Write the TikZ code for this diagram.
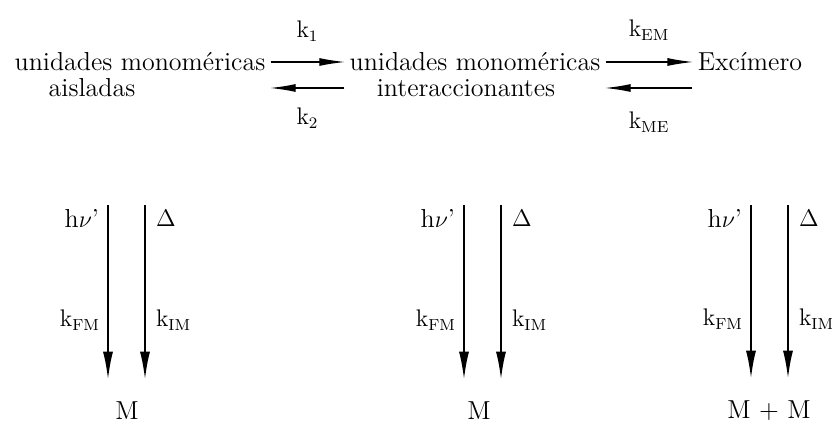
\documentclass[tikz,border=0pt]{standalone}
\usepackage{fontspec}
\usepackage{tikz}
\usetikzlibrary{arrows.meta,positioning,calc}

\begin{document}
\begin{tikzpicture}[
  x=0.5pt, y=-0.5pt,
  every node/.style={font=\fontsize{13}{15}\selectfont, inner sep=1pt},
  rate/.style    ={font=\fontsize{12}{14}\selectfont},
  react/.style   ={line width=0.7pt, -{Latex[length=13pt,width=4pt]},
                   shorten <=1.5pt, shorten >=1pt},
  decay/.style   ={line width=1pt, -{Latex[length=14pt,width=5pt]},
                   shorten >=10pt}]

\useasboundingbox (0,0) rectangle (832,422);

% one pair of decay arrows: x of the left arrow, name of the product node
\newcommand{\decaypair}[2]{%
  \coordinate (#2rad) at (#1,205);
  \coordinate (#2heat) at (#1+37,205);
  \draw[decay] (#2rad) -- (#2rad |- #2.north)
    node[pos=0.07, left=3pt] {h$\nu$'}
    node[pos=0.59, left=2.5pt, rate] {k$_{\mathrm{FM}}$};
  \draw[decay] (#2heat) -- (#2heat |- #2.north)
    node[pos=0.07, right=4pt] {$\Delta$}
    node[pos=0.59, right=4pt, rate] {k$_{\mathrm{IM}}$};}

% ======================  reaction scheme  ============================
\node (aisl)  at (140,62) {unidades monoméricas};
\node (aisl2) at (92,88)  {aisladas};
\node (inter) at (475,62) {unidades monoméricas};
\node (inter2) at (466,88) {interaccionantes};
\node (exc)   at (750,62) {Excímero};

\draw[react] (aisl.east) -- (inter.west)
  node[midway, yshift=15.5pt, rate] {k$_1$};
\draw[react] (inter.west |- aisl2) -- (aisl.east |- aisl2)
  node[midway, yshift=-15pt, rate] {k$_2$};

\draw[react] (inter.east) -- (exc.west)
  node[midway, yshift=16pt, rate] {k$_{\mathrm{EM}}$};
\draw[react] (exc.west |- inter2) -- (inter.east |- inter2)
  node[midway, yshift=-17pt, rate] {k$_{\mathrm{ME}}$};

% ======================  deactivation  ===============================
\node (mono)  at (127,411) {M};
\node (mono2) at (479,411) {M};
\node (pair)  at (769,411) {M + M};

\decaypair{108}{mono}
\decaypair{464}{mono2}
\decaypair{751}{pair}

\end{tikzpicture}
\end{document}
